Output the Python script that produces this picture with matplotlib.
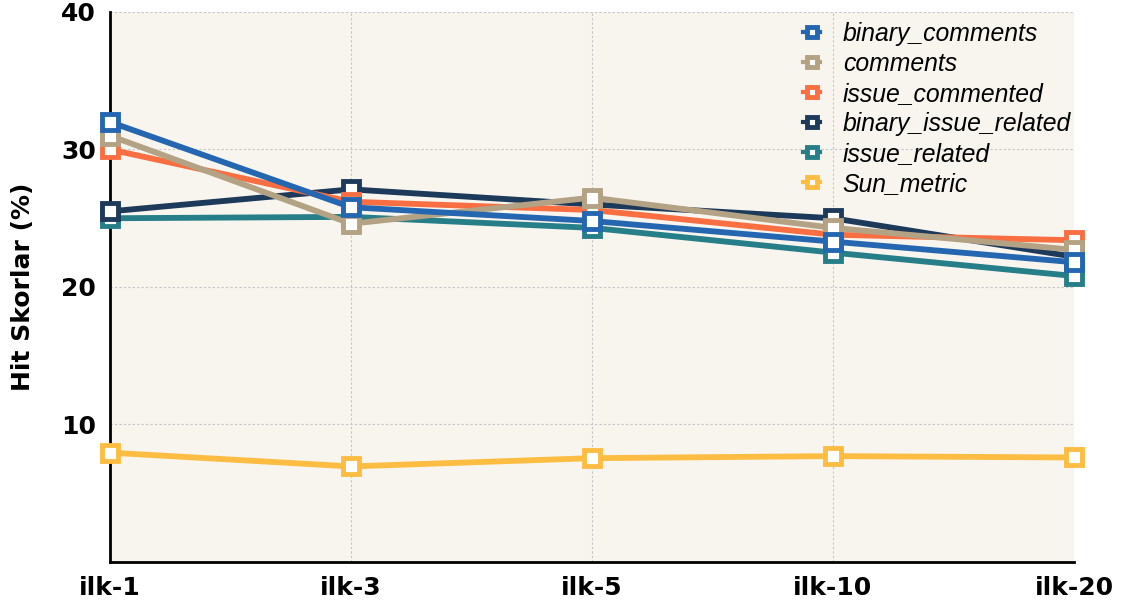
import matplotlib.pyplot as plt

# hit scores (%) for each ranking cut-off
cutoffs = ['ilk-1', 'ilk-3', 'ilk-5', 'ilk-10', 'ilk-20']
binary_comments = [32.0, 25.8, 24.8, 23.3, 21.8]
comments = [31.0, 24.6, 26.5, 24.3, 22.7]
issue_commented = [30.0, 26.2, 25.6, 23.8, 23.4]
binary_issue_related = [25.5, 27.1, 26.0, 25.0, 22.2]
issue_related = [25.0, 25.1, 24.3, 22.5, 20.8]
sun_metric = [7.95, 6.95, 7.55, 7.7, 7.6]

series = [
    ('binary_comments', binary_comments, '#2467b0'),
    ('comments', comments, '#b3a283'),
    ('issue_commented', issue_commented, '#f96f42'),
    ('binary_issue_related', binary_issue_related, '#1e3a5a'),
    ('issue_related', issue_related, '#267e88'),
    ('Sun_metric', sun_metric, '#fdbd42'),
]

fig = plt.figure(figsize=(11.26, 6.15), dpi=100)
ax = fig.add_axes([0.0977, 0.0862, 0.8561, 0.8943])
ax.set_facecolor('#f8f5ee')

x = list(range(len(cutoffs)))
for name, vals, col in reversed(series):
    ax.plot(x, vals, color=col, lw=4.2, marker='s', markersize=11,
            markerfacecolor='white', markeredgecolor=col, markeredgewidth=3.5,
            label=name, clip_on=False, zorder=3)

ax.set_xlim(0, 4)
ax.set_ylim(0, 40)
ax.set_xticks(x)
ax.set_xticklabels(cutoffs)
ax.set_yticks([10, 20, 30, 40])
ax.tick_params(axis='both', length=0, labelsize=18, pad=10)
for lbl in ax.get_xticklabels() + ax.get_yticklabels():
    lbl.set_fontweight('bold')
ax.set_ylabel('Hit Skorlar (%)', fontsize=18, fontweight='bold', labelpad=19)

ax.grid(True, color='#c4c4c4', linestyle=(0, (2, 2)), lw=0.8)
ax.set_axisbelow(True)
for s in ['top', 'right']:
    ax.spines[s].set_visible(False)
for s in ['left', 'bottom']:
    ax.spines[s].set_linewidth(2)
    ax.spines[s].set_color('black')

handles, labels = ax.get_legend_handles_labels()
leg = ax.legend(handles[::-1], labels[::-1], loc='upper left',
                bbox_to_anchor=(0.696, 1.022), frameon=False,
                handlelength=0.7, handletextpad=0.9, labelspacing=0.24,
                markerscale=0.7, prop={'family': 'Liberation Sans',
                                       'style': 'italic', 'size': 17.8})
for line in leg.get_lines():
    line.set_linewidth(3)

fig.savefig('out.png')
